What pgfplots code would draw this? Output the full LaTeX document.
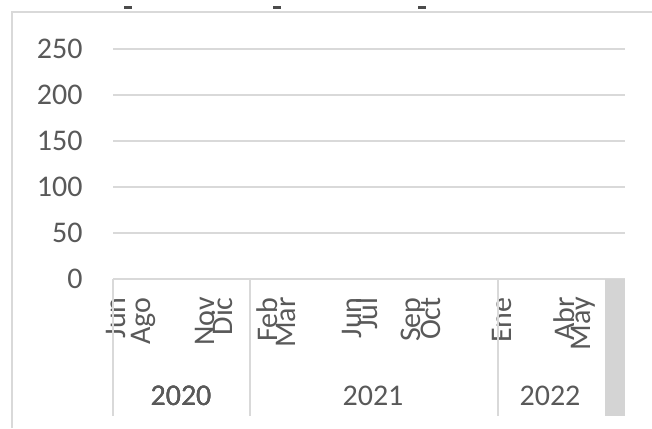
\documentclass[border=0pt]{standalone}
\usepackage{fontspec}
\setmainfont{Carlito}
\usepackage{pgfplots}
\pgfplotsset{compat=1.18}
\definecolor{txt}{HTML}{595959}
\definecolor{gridc}{HTML}{D9D9D9}
\definecolor{barg}{HTML}{D4D4D4}

\begin{document}
\begin{tikzpicture}[x=0.5pt,y=0.5pt]
% units: one reference pixel, y counted from the bottom of the picture
\draw[gridc, line width=1pt] (12,0) -- (12,416) -- (652,416);
% fragments of the cut-off text above
\foreach \p in {128,277,422} \fill[black!70] (\p-4,419) rectangle (\p+4,422);
\begin{axis}[
  at={(113,162)}, anchor=south west,
  scale only axis, width=256pt, height=115pt,
  xmin=0, xmax=512, ymin=0, ymax=250,
  axis line style={draw=none},
  major tick length=0pt,
  ytick={0,50,...,250},
  ymajorgrids, grid style={gridc, line width=1pt},
  xtick={3,30,92,109,154,173,239,254,300,318,389,451,470},
  xticklabels={Jun,Ago,Nov,Dic,Feb,Mar,Jun,Jul,Sep,Oct,Ene,Abr,May},
  x tick label style={rotate=90, anchor=east, inner sep=0pt},
  xticklabel shift=9pt,
  y tick label style={anchor=east, inner sep=0pt},
  yticklabel shift=15pt,
  tick label style={font=\fontsize{15}{15}\selectfont, text=txt},
  /pgf/number format/assume math mode=true,
  clip=false,
]
\fill[barg] (axis cs:492,0) rectangle (axis cs:512,-149);
\foreach \s in {0,137,385}
  \edef\tmp{\noexpand\draw[gridc, line width=1pt] (axis cs:\s,0) -- (axis cs:\s,-149);}\tmp
\node[text=txt, font=\fontsize{15}{15}\selectfont] at (axis cs:68,-127) {2020};
\node[text=txt, font=\fontsize{15}{15}\selectfont] at (axis cs:260,-127) {2021};
\node[text=txt, font=\fontsize{15}{15}\selectfont] at (axis cs:437,-127) {2022};
\end{axis}
\pgfresetboundingbox
\useasboundingbox (0,0) rectangle (652,428);
\end{tikzpicture}
\end{document}
